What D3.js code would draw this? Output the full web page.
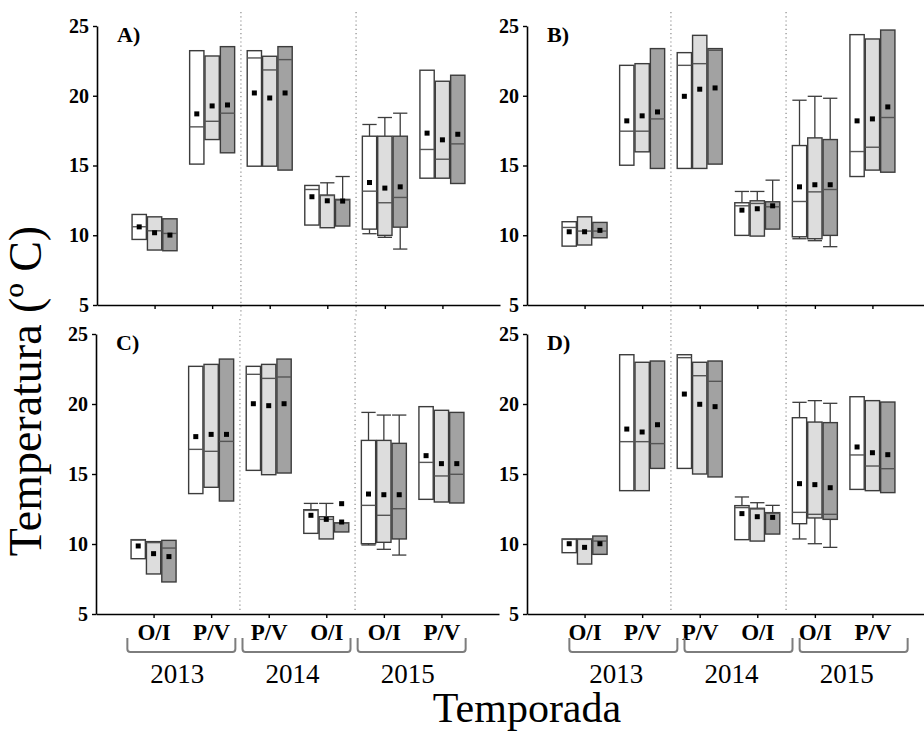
<html>
<head>
<meta charset="utf-8">
<script src="https://d3js.org/d3.v7.min.js"></script>
<style>
  body { margin: 0; background: #fff; }
  svg text { font-family: "Liberation Serif", "Times New Roman", serif; }
</style>
</head>
<body>
<svg id="chart" width="924" height="731"></svg>
<script>
// season labels under each tick, and the year groups
const categories = ["O/I", "P/V", "P/V", "O/I", "O/I", "P/V"];
const years = ["2013", "2014", "2015"];
const panelLabels = ["A)", "B)", "C)", "D)"];
const yTicks = [5, 10, 15, 20, 25];

// one row per season, three boxes per season
// each box: [lower whisker, Q1, median, Q3, upper whisker, mean]
const boxesA = [
  [[9.70, 9.70, 10.61, 11.49, 11.49, 10.60], [8.94, 8.94, 10.32, 11.32, 11.32, 10.18], [8.89, 8.89, 10.13, 11.18, 11.18, 10.01]],
  [[15.10, 15.10, 17.77, 23.23, 23.23, 18.70], [16.86, 16.86, 18.17, 22.85, 22.85, 19.27], [15.91, 15.91, 18.75, 23.52, 23.52, 19.34]],
  [[14.95, 14.95, 22.71, 23.23, 23.23, 20.20], [14.95, 14.95, 21.85, 22.83, 22.83, 19.84], [14.67, 14.67, 22.59, 23.52, 23.52, 20.20]],
  [[10.73, 10.73, 13.28, 13.57, 13.57, 12.76], [10.54, 10.54, 12.85, 12.88, 13.76, 12.47], [10.66, 10.66, 12.52, 12.57, 14.21, 12.45]],
  [[10.11, 10.44, 13.16, 17.10, 17.94, 13.78], [9.85, 9.99, 12.33, 17.10, 18.44, 13.38], [9.01, 10.58, 12.71, 17.10, 18.75, 13.47]],
  [[14.09, 14.09, 16.15, 21.83, 21.83, 17.32], [14.09, 14.09, 15.45, 21.04, 21.04, 16.84], [13.71, 13.71, 16.55, 21.47, 21.47, 17.24]]
];
const boxesB = [
  [[9.22, 9.22, 10.56, 10.97, 10.97, 10.25], [9.30, 9.30, 10.30, 11.32, 11.32, 10.25], [9.82, 9.82, 10.30, 10.92, 10.92, 10.35]],
  [[15.02, 15.02, 17.46, 22.18, 22.18, 18.20], [15.98, 15.98, 17.46, 22.30, 22.30, 18.56], [14.79, 14.79, 18.34, 23.38, 23.38, 18.84]],
  [[14.79, 14.79, 22.18, 23.09, 23.09, 19.96], [14.79, 14.79, 22.30, 24.33, 24.33, 20.47], [15.10, 15.10, 23.26, 23.38, 23.38, 20.56]],
  [[9.99, 9.99, 12.11, 12.33, 13.14, 11.80], [9.94, 9.94, 12.28, 12.47, 13.14, 11.90], [10.44, 10.44, 12.04, 12.40, 13.95, 12.11]],
  [[9.75, 9.89, 12.42, 16.43, 19.68, 13.47], [9.61, 9.75, 13.11, 16.98, 19.96, 13.62], [9.18, 9.99, 13.28, 16.86, 19.82, 13.62]],
  [[14.21, 14.21, 16.00, 24.38, 24.38, 18.20], [14.67, 14.67, 16.31, 24.07, 24.07, 18.34], [14.52, 14.52, 18.44, 24.71, 24.71, 19.20]]
];
const boxesC = [
  [[8.95, 8.95, 10.28, 10.31, 10.31, 9.86], [7.86, 7.86, 10.10, 10.17, 10.17, 9.31], [7.29, 7.29, 9.71, 10.26, 10.26, 9.10]],
  [[13.60, 13.60, 16.76, 22.69, 22.69, 17.67], [14.05, 14.05, 16.62, 22.83, 22.83, 17.83], [13.07, 13.07, 17.33, 23.21, 23.21, 17.83]],
  [[15.26, 15.26, 22.12, 22.69, 22.69, 20.02], [14.95, 14.95, 21.83, 22.83, 22.83, 19.88], [15.07, 15.07, 21.93, 23.21, 23.21, 20.02]],
  [[10.76, 10.76, 12.40, 12.45, 12.90, 12.05], [10.36, 10.36, 11.76, 11.95, 12.90, 11.76], [10.86, 10.86, 11.50, 11.52, 11.52, 11.57]],
  [[9.93, 10.02, 12.76, 17.40, 19.40, 13.57], [9.62, 10.12, 12.05, 17.40, 19.21, 13.52], [9.21, 10.36, 12.52, 17.19, 19.21, 13.52]],
  [[13.19, 13.19, 15.83, 19.81, 19.81, 16.31], [13.00, 13.00, 14.86, 19.55, 19.55, 15.74], [12.93, 12.93, 14.98, 19.40, 19.40, 15.74]]
];
const boxesD = [
  [[9.38, 9.38, 10.33, 10.36, 10.36, 10.02], [8.57, 8.57, 10.33, 10.36, 10.36, 9.76], [9.26, 9.26, 10.21, 10.57, 10.57, 10.02]],
  [[13.81, 13.81, 17.31, 23.52, 23.52, 18.21], [13.81, 13.81, 17.31, 22.98, 22.98, 18.00], [15.40, 15.40, 17.17, 23.07, 23.07, 18.52]],
  [[15.40, 15.40, 23.31, 23.52, 23.52, 20.71], [15.00, 15.00, 22.02, 22.98, 22.98, 19.98], [14.79, 14.79, 21.62, 23.07, 23.07, 19.81]],
  [[10.31, 10.31, 12.60, 12.74, 13.36, 12.17], [10.21, 10.21, 12.50, 12.55, 12.95, 11.95], [10.71, 10.71, 12.19, 12.24, 12.76, 11.90]],
  [[10.36, 11.45, 12.26, 19.02, 20.12, 14.31], [10.02, 11.86, 12.12, 18.71, 20.24, 14.24], [9.76, 11.76, 12.12, 18.67, 20.05, 14.02]],
  [[13.90, 13.90, 16.36, 20.52, 20.52, 16.93], [13.81, 13.81, 15.57, 20.24, 20.24, 16.52], [13.67, 13.67, 15.38, 20.14, 20.14, 16.38]]
];
// extra marker (season index, box index, value), only in panel C
const extraC = [[3, 2, 12.88]];

const fills = ["#ffffff", "#dddddd", "#a2a2a2"];
const boxStroke = "#3c3c3c";
const medStroke = "#555";
const serif = "'Liberation Serif', 'Times New Roman', serif";

const svg = d3.select("#chart");

var panels = [
  {label: panelLabels[0], data: boxesA, extra: [], x0: 97,  top: 26,  bottom: 305, sep: [12, 317], labels: false},
  {label: panelLabels[1], data: boxesB, extra: [], x0: 527, top: 26,  bottom: 305, sep: [12, 317], labels: false},
  {label: panelLabels[2], data: boxesC, extra: extraC, x0: 96,  top: 334, bottom: 614, sep: [319, 611], labels: true, bracketShift: -1, yearShift: -5},
  {label: panelLabels[3], data: boxesD, extra: [], x0: 527, top: 334, bottom: 614, sep: [319, 611], labels: true, bracketShift: 10, yearShift: 3}
];

panels.forEach(function(p) {
  var x = d3.scaleLinear().domain([0, 7]).range([p.x0, p.x0 + 403]);
  var y = d3.scaleLinear().domain([5, 25]).range([p.bottom, p.top]);
  var sub = d3.scaleBand().domain([0, 1, 2]).range([-22.5, 22.5]).paddingInner(0.07);
  var w = sub.bandwidth();

  var g = svg.append("g");

  // dotted year separators
  g.selectAll(".sep")
    .data([2.5, 4.5])
    .enter().append("line")
    .attr("x1", d => x(d)).attr("x2", d => x(d))
    .attr("y1", p.sep[0]).attr("y2", p.sep[1])
    .attr("stroke", "#8a8a8a")
    .attr("stroke-width", 1.2)
    .attr("stroke-dasharray", "1.2,3");

  var flat = [];
  p.data.forEach(function(cat, i) {
    cat.forEach(function(b, j) {
      flat.push({i: i, j: j, lo: b[0], q1: b[1], med: b[2], q3: b[3], hi: b[4], mean: b[5]});
    });
  });
  var left = d => x(d.i + 1) + sub(d.j);
  var mid = d => x(d.i + 1) + sub(d.j) + w / 2;

  var box = g.selectAll(".box").data(flat).enter().append("g");

  // whiskers
  box.filter(d => d.hi > d.q3).append("line")
    .attr("x1", mid).attr("x2", mid)
    .attr("y1", d => y(d.q3)).attr("y2", d => y(d.hi))
    .attr("stroke", boxStroke).attr("stroke-width", 1.3);
  box.filter(d => d.hi > d.q3).append("line")
    .attr("x1", left).attr("x2", d => left(d) + w)
    .attr("y1", d => y(d.hi)).attr("y2", d => y(d.hi))
    .attr("stroke", boxStroke).attr("stroke-width", 1.3);
  box.filter(d => d.lo < d.q1).append("line")
    .attr("x1", mid).attr("x2", mid)
    .attr("y1", d => y(d.q1)).attr("y2", d => y(d.lo))
    .attr("stroke", boxStroke).attr("stroke-width", 1.3);
  box.filter(d => d.lo < d.q1).append("line")
    .attr("x1", left).attr("x2", d => left(d) + w)
    .attr("y1", d => y(d.lo)).attr("y2", d => y(d.lo))
    .attr("stroke", boxStroke).attr("stroke-width", 1.3);

  box.append("rect")
    .attr("x", left)
    .attr("y", d => y(d.q3))
    .attr("width", w)
    .attr("height", d => y(d.q1) - y(d.q3))
    .attr("fill", d => fills[d.j])
    .attr("stroke", boxStroke)
    .attr("stroke-width", 1.4);

  box.append("line")
    .attr("x1", left).attr("x2", d => left(d) + w)
    .attr("y1", d => y(d.med)).attr("y2", d => y(d.med))
    .attr("stroke", medStroke).attr("stroke-width", 1.4);

  box.append("rect")
    .attr("x", d => mid(d) - 2.5)
    .attr("y", d => y(d.mean) - 2.5)
    .attr("width", 5).attr("height", 5)
    .attr("fill", "#000");

  g.selectAll(".extra").data(p.extra).enter().append("rect")
    .attr("x", d => x(d[0] + 1) + sub(d[1]) + w / 2 - 2.5)
    .attr("y", d => y(d[2]) - 2.5)
    .attr("width", 5).attr("height", 5)
    .attr("fill", "#000");

  // axes
  var ya = g.append("g")
    .attr("transform", "translate(" + p.x0 + ",0)")
    .call(d3.axisLeft(y).tickValues(yTicks).tickSize(4).tickSizeOuter(0).tickPadding(4));
  ya.attr("font-family", null);
  ya.selectAll("text")
    .style("font-family", serif)
    .style("font-size", "20px").style("font-weight", "bold").attr("fill", "#000");

  var xa = g.append("g")
    .attr("transform", "translate(0," + p.bottom + ")")
    .call(d3.axisBottom(x).tickValues([1, 2, 3, 4, 5, 6])
      .tickSize(4).tickSizeOuter(0).tickPadding(6)
      .tickFormat(d => p.labels ? categories[d - 1] : ""));
  xa.attr("font-family", null);
  xa.selectAll("text")
    .style("font-family", serif)
    .style("font-size", "23px").style("font-weight", "bold").attr("fill", "#000");

  [ya, xa].forEach(function(a) {
    a.select(".domain").attr("stroke", "#000").attr("stroke-width", 1.6);
    a.selectAll(".tick line").attr("stroke", "#000").attr("stroke-width", 1.4);
  });

  g.append("text")
    .text(p.label)
    .attr("x", p.x0 + 20)
    .attr("y", p.top + 16)
    .style("font-family", serif)
    .style("font-size", "22px")
    .style("font-weight", "bold");

  if (p.labels) {
    // year brackets and labels
    var brackets = g.selectAll(".bracket").data(years).enter().append("g");
    brackets.append("path")
      .attr("d", function(d, k) {
        var c = x(2 * k + 1.5) + p.bracketShift;
        var x1 = c - 54, x2 = c + 54, yt = 638, yb = 652;
        return "M" + x1 + "," + yt + " V" + (yb - 3) + " Q" + x1 + "," + yb + " " + (x1 + 3) + "," + yb +
               " H" + (x2 - 3) + " Q" + x2 + "," + yb + " " + x2 + "," + (yb - 3) + " V" + yt;
      })
      .attr("fill", "none")
      .attr("stroke", "#7d7d7d")
      .attr("stroke-width", 2);
    brackets.append("text")
      .text(d => d)
      .attr("x", (d, k) => x(2 * k + 1.5) + p.yearShift)
      .attr("y", 683)
      .attr("text-anchor", "middle")
      .style("font-family", serif)
      .style("font-size", "27px");
  }
});

svg.append("text")
  .text("Temporada")
  .attr("x", 527)
  .attr("y", 722)
  .attr("text-anchor", "middle")
  .style("font-family", serif)
  .style("font-size", "42px");

svg.append("text")
  .text("Temperatura (º C)")
  .attr("transform", "translate(41,391) rotate(-90)")
  .attr("text-anchor", "middle")
  .style("font-family", serif)
  .style("font-size", "46px");
</script>
</body>
</html>
